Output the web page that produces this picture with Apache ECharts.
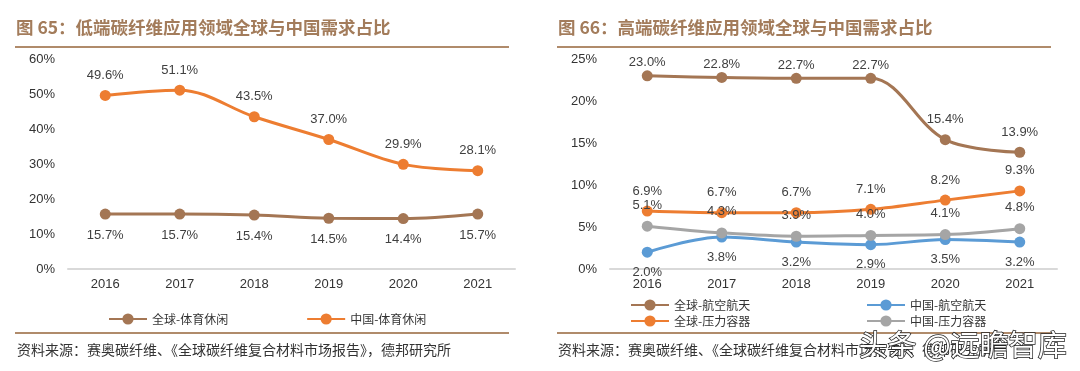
<!DOCTYPE html>
<html><head><meta charset="utf-8">
<script src="https://cdn.jsdelivr.net/npm/echarts@6/dist/echarts.min.js"></script>
<style>html,body{margin:0;padding:0;background:#fff}#c{width:1080px;height:371px}</style>
</head><body><div id="c"></div>
<script>
const years = ['2016','2017','2018','2019','2020','2021'];
// left chart
const globalSports = [15.7, 15.7, 15.4, 14.5, 14.4, 15.7];
const chinaSports = [49.6, 51.1, 43.5, 37.0, 29.9, 28.1];
// right chart
const globalAero = [23.0, 22.8, 22.7, 22.7, 15.4, 13.9];
const chinaAero = [2.0, 3.8, 3.2, 2.9, 3.5, 3.2];
const globalPressure = [6.9, 6.7, 6.7, 7.1, 8.2, 9.3];
const chinaPressure = [5.1, 4.3, 3.9, 4.0, 4.1, 4.8];
const leftTicks = {min: 0, max: 60, interval: 10};
const rightTicks = {min: 0, max: 25, interval: 5};

const BROWN = '#A47654', ORANGE = '#ED7D31', BLUE = '#5B9BD5', GRAY = '#A5A5A5';
const TITLE_C = '#A37C5B', RULE_C = '#B08B6B';
const lblFont = {fontFamily: 'Liberation Sans, Arial, sans-serif', fontSize: 13, color: '#404040'};

function line(name, data, color, xi, pos, dist) {
  return {
    name, type: 'line', xAxisIndex: xi, yAxisIndex: xi, smooth: 0.35,
    data: data.map(v => (v > 20 && xi === 1) ? {value: v, label: {distance: 1}} : v),
    symbol: 'circle', symbolSize: 11,
    lineStyle: {color, width: 3}, itemStyle: {color},
    label: Object.assign({show: true, position: pos, distance: dist,
      formatter: p => p.value.toFixed(1) + '%'}, lblFont),
    z: 3
  };
}
const chart = echarts.init(document.getElementById('c'), null, {renderer: 'canvas'});
const xAx = gi => ({type: 'category', gridIndex: gi, data: years, boundaryGap: true,
  axisLine: {lineStyle: {color: '#D9D9D9', width: 2}}, axisTick: {show: false},
  axisLabel: {margin: 9, fontFamily: 'Liberation Sans, Arial, sans-serif', fontSize: 13, color: '#333'}});
const yAx = (gi, t) => ({type: 'value', gridIndex: gi, min: t.min, max: t.max, interval: t.interval,
  axisLine: {show: false}, axisTick: {show: false}, splitLine: {show: false},
  axisLabel: {margin: 13, formatter: '{value}%', fontFamily: 'Liberation Sans, Arial, sans-serif', fontSize: 13, color: '#333'}});
const legendText = {fontFamily: 'Noto Sans CJK SC', fontSize: 12, color: '#333'};
const titleFont = {fontFamily: 'Noto Sans CJK SC', fontSize: 17.5, fontWeight: 'bold', fill: TITLE_C};
const srcFont = {fontFamily: 'Noto Sans CJK SC', fontSize: 14, fill: '#333'};
chart.setOption({
  animation: false,
  grid: [
    {left: 68, right: 565, top: 59, bottom: 102},
    {left: 610, right: 23, top: 59, bottom: 102}
  ],
  xAxis: [xAx(0), xAx(1)],
  yAxis: [yAx(0, leftTicks), yAx(1, rightTicks)],
  legend: [
    {data: ['全球-体育休闲', '中国-体育休闲'], left: 103, top: 308, itemGap: 78, itemWidth: 38, itemHeight: 14, textStyle: legendText},
    {data: ['全球-航空航天', '全球-压力容器'], orient: 'vertical', left: 625, top: 294, itemGap: 4, itemWidth: 38, itemHeight: 14, textStyle: legendText},
    {data: ['中国-航空航天', '中国-压力容器'], orient: 'vertical', left: 861, top: 294, itemGap: 4, itemWidth: 38, itemHeight: 14, textStyle: legendText}
  ],
  series: [
    line('全球-体育休闲', globalSports, BROWN, 0, 'bottom', 9),
    line('中国-体育休闲', chinaSports, ORANGE, 0, 'top', 8),
    line('全球-航空航天', globalAero, BROWN, 1, 'top', 8),
    line('中国-航空航天', chinaAero, BLUE, 1, 'bottom', 8),
    line('全球-压力容器', globalPressure, ORANGE, 1, 'top', 8),
    line('中国-压力容器', chinaPressure, GRAY, 1, 'top', 9)
  ],
  graphic: [
    {type: 'text', left: 16, top: 19, style: Object.assign({text: '图 65：低端碳纤维应用领域全球与中国需求占比'}, titleFont)},
    {type: 'text', left: 558, top: 19, style: Object.assign({text: '图 66：高端碳纤维应用领域全球与中国需求占比'}, titleFont)},
    {type: 'rect', shape: {x: 15, y: 46, width: 494, height: 2}, style: {fill: RULE_C}},
    {type: 'rect', shape: {x: 557, y: 46, width: 494, height: 2}, style: {fill: RULE_C}},
    {type: 'rect', shape: {x: 15, y: 332, width: 494, height: 2}, style: {fill: RULE_C}},
    {type: 'rect', shape: {x: 557, y: 332, width: 494, height: 2}, style: {fill: RULE_C}},
    {type: 'text', left: 17, top: 343, style: Object.assign({text: '资料来源：赛奥碳纤维、《全球碳纤维复合材料市场报告》，德邦研究所'}, srcFont)},
    {type: 'text', left: 558, top: 343, style: Object.assign({text: '资料来源：赛奥碳纤维、《全球碳纤维复合材料市场报告》，德邦研究所'}, srcFont)},
    {type: 'text', left: 858, top: 330, z: 10, style: {text: '头条 @远瞻智库', fontFamily: 'Noto Sans CJK SC', fontSize: 29, fill: '#fff', stroke: '#222', lineWidth: 1.5}}
  ]
});
</script></body></html>
